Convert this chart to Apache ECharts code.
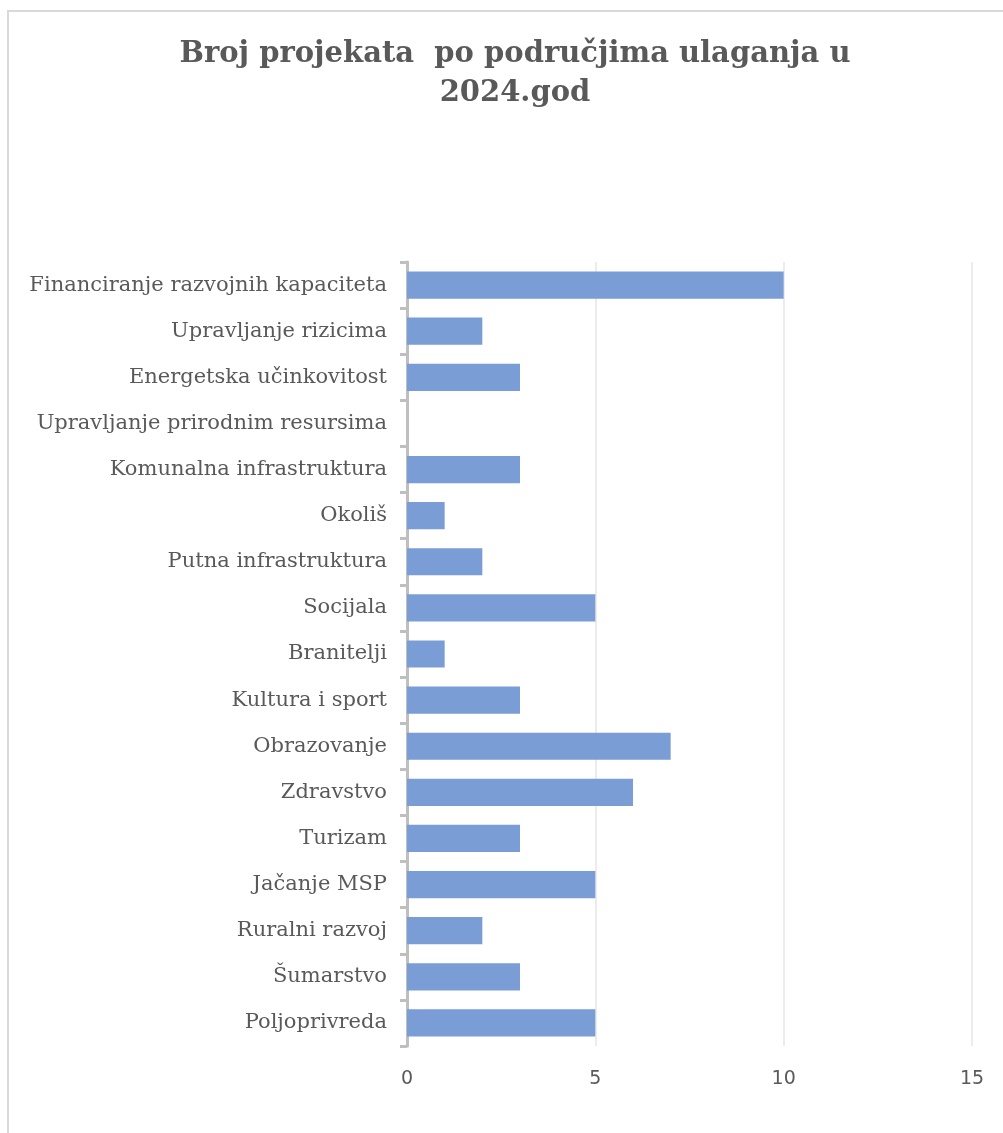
<!DOCTYPE html>
<html>
<head>
<meta charset="utf-8">
<script src="https://cdn.jsdelivr.net/npm/echarts@6/dist/echarts.min.js"></script>
<style>
html,body{margin:0;padding:0;background:#fff;}
#frame{position:absolute;left:7px;top:10px;width:1000px;height:1130px;border-left:2px solid #d9d9d9;border-top:2px solid #d9d9d9;box-sizing:border-box;}
#chart{position:absolute;left:0;top:0;width:1003px;height:1133px;}
</style>
</head>
<body>
<div id="frame"></div>
<div id="chart"></div>
<script>
const titleText = 'Broj projekata  po područjima ulaganja u\n2024.god';
const categories = ['Poljoprivreda','Šumarstvo','Ruralni razvoj','Jačanje MSP','Turizam','Zdravstvo','Obrazovanje','Kultura i sport','Branitelji','Socijala','Putna infrastruktura','Okoliš','Komunalna infrastruktura','Upravljanje prirodnim resursima','Energetska učinkovitost','Upravljanje rizicima','Financiranje razvojnih kapaciteta'];
const values = [5,3,2,5,3,6,7,3,1,5,2,1,3,0,3,2,10];
const xTicks = [0,5,10,15];

const chart = echarts.init(document.getElementById('chart'), null, {renderer:'canvas'});
chart.setOption({
  animation:false,
  title:{
    text:titleText,
    left:510, textAlign:'center', top:30,
    textStyle:{fontFamily:'DejaVu Serif', fontWeight:'bold', fontSize:29, color:'#595959', lineHeight:39}
  },
  grid:{left:407, right:31, top:262, bottom:87, containLabel:false},
  xAxis:{
    type:'value', min:xTicks[0], max:xTicks[xTicks.length-1], interval:5,
    axisLine:{show:false}, axisTick:{show:false},
    axisLabel:{fontFamily:'DejaVu Sans', fontSize:19, color:'#595959', margin:24},
    splitLine:{show:true, lineStyle:{color:'#e6e6e6', width:1.5}}
  },
  yAxis:{
    type:'category', data:categories,
    axisLine:{show:true, lineStyle:{color:'#bfbfbf', width:3}},
    axisTick:{show:true, length:7, lineStyle:{color:'#bfbfbf', width:3}},
    axisLabel:{fontFamily:'DejaVu Serif', fontSize:21, color:'#595959', margin:20}
  },
  series:[{
    type:'bar', data:values, barCategoryGap:'41%',
    itemStyle:{color:'#7b9dd6'}
  }]
});
</script>
</body>
</html>
